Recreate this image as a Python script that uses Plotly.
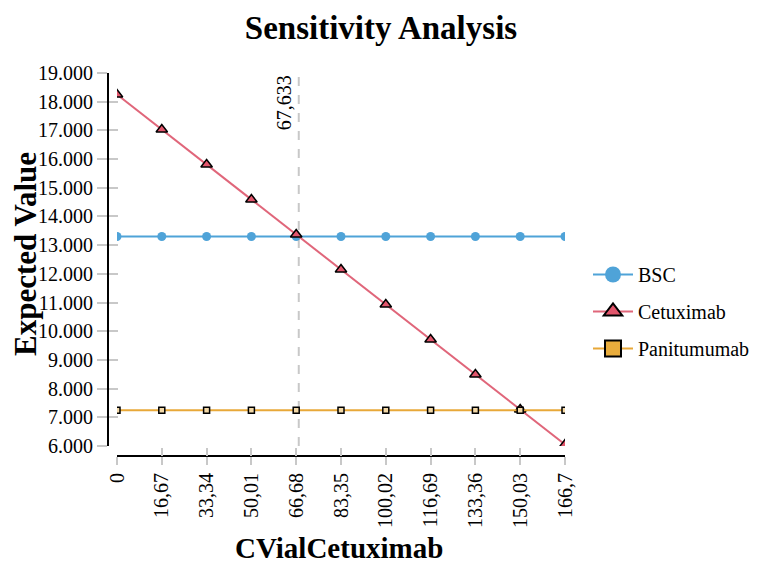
import plotly.graph_objects as go

# ---- data ----
x_values = [0, 16.67, 33.34, 50.01, 66.68, 83.35, 100.02, 116.69, 133.36, 150.03, 166.7]
x_labels = ["0", "16,67", "33,34", "50,01", "66,68", "83,35", "100,02", "116,69", "133,36", "150,03", "166,7"]
bsc = [13300, 13300, 13300, 13300, 13300, 13300, 13300, 13300, 13300, 13300, 13300]
cetuximab = [18250, 17030, 15810, 14590, 13370, 12150, 10930, 9710, 8490, 7270, 6050]
panitumumab = [7250, 7250, 7250, 7250, 7250, 7250, 7250, 7250, 7250, 7250, 7250]
threshold = 67.633
threshold_label = "67,633"
y_min, y_max = 6000, 19000

OFF = 8  # page body margin
W, H = 757 - OFF, 569 - OFF
FONT = "Liberation Serif"
C_BSC = "#4fa3d8"
C_CET = "#e0667a"
C_CET_FILL = "#e2566c"
C_PAN = "#e8a838"
TICKC = "#c8c8c8"

def px_x(p):
    return (p - OFF) / W

def px_y(p):
    return (H - (p - OFF)) / H

fig = go.Figure()

fig.add_trace(go.Scatter(x=x_values, y=bsc, mode="lines+markers", name="BSC",
                         line=dict(color=C_BSC, width=2),
                         marker=dict(symbol="circle", size=9, color=C_BSC),
                         showlegend=False))
fig.add_trace(go.Scatter(x=x_values, y=cetuximab, mode="lines+markers", name="Cetuximab",
                         line=dict(color=C_CET, width=2),
                         marker=dict(symbol="triangle-up", size=10, color=C_CET_FILL,
                                     line=dict(color="black", width=1.5)),
                         showlegend=False))
fig.add_trace(go.Scatter(x=x_values, y=panitumumab, mode="lines+markers", name="Panitumumab",
                         line=dict(color=C_PAN, width=2),
                         marker=dict(symbol="square", size=6, color="#f3d9a8",
                                     line=dict(color="black", width=1.5)),
                         showlegend=False))

fig.add_trace(go.Scatter(x=[None], y=[None], mode="lines+markers", name="BSC",
                         line=dict(color=C_BSC, width=2),
                         marker=dict(symbol="circle", size=20, color=C_BSC),
                         legendgroup="a"))
fig.add_trace(go.Scatter(x=[None], y=[None], mode="lines+markers", name="Cetuximab",
                         line=dict(color=C_CET, width=2),
                         marker=dict(symbol="triangle-up", size=20, color=C_CET_FILL,
                                     line=dict(color="black", width=2)),
                         legendgroup="b"))
fig.add_trace(go.Scatter(x=[None], y=[None], mode="lines+markers", name="Panitumumab",
                         line=dict(color=C_PAN, width=2),
                         marker=dict(symbol="square", size=20, color="#e8ac3c",
                                     line=dict(color="black", width=2)),
                         legendgroup="c"))

fig.add_trace(go.Scatter(x=[], y=[], xaxis="x2", yaxis="y2", showlegend=False, hoverinfo="skip"))

x_dom = [px_x(117), px_x(565)]
y_dom = [px_y(446), px_y(73)]
x_pos = px_y(456)
y_pos = px_x(108)
x_range = [x_values[0], x_values[-1]]
tf = dict(size=20, family=FONT, color="black")

fig.update_layout(
    template="none",
    width=W, height=H,
    margin=dict(l=0, r=0, t=0, b=0, autoexpand=False),
    paper_bgcolor="white", plot_bgcolor="white",
    separators=",.",
    font=tf,
    title=dict(text="<b>Sensitivity Analysis</b>", x=px_x(381), xanchor="center",
               y=px_y(27), yanchor="middle", font=dict(size=33, family=FONT, color="black")),
    xaxis=dict(domain=x_dom, range=x_range, anchor="free", position=x_pos, automargin=False,
               tickvals=x_values, ticktext=x_labels, tickangle=-90,
               showline=True, linecolor="black", linewidth=2,
               ticks="outside", ticklen=8, tickcolor=TICKC, tickwidth=2,
               showgrid=False, zeroline=False, tickfont=tf),
    yaxis=dict(domain=y_dom, range=[y_min, y_max], anchor="free", position=y_pos, automargin=False,
               tick0=y_min, dtick=1000, tickformat=",",
               showline=True, linecolor="black", linewidth=2,
               ticks="outside", ticklen=10, tickcolor=TICKC, tickwidth=2,
               showgrid=False, zeroline=False, tickfont=tf),
    xaxis2=dict(domain=x_dom, range=x_range, overlaying="x", anchor="free", position=x_pos,
                automargin=False,
                tickvals=x_values, showticklabels=False, showline=False,
                ticks="inside", ticklen=8, tickcolor=TICKC, tickwidth=2,
                showgrid=False, zeroline=False),
    yaxis2=dict(domain=y_dom, range=[y_min, y_max], overlaying="y", anchor="free", position=y_pos,
                automargin=False,
                tick0=y_min, dtick=1000, showticklabels=False, showline=False,
                ticks="inside", ticklen=9, tickcolor=TICKC, tickwidth=2,
                showgrid=False, zeroline=False),
    legend=dict(x=px_x(588), y=px_y(255), xanchor="left", yanchor="top",
                font=tf, itemwidth=40, tracegroupgap=8,
                bgcolor="rgba(0,0,0,0)"),
    showlegend=True,
)

fig.add_shape(type="line", xref="x", yref="y", x0=threshold, x1=threshold,
              y0=y_min, y1=y_max, line=dict(color="#c8c8c8", width=2, dash="dash"),
              layer="below")
fig.add_annotation(x=threshold, y=y_max, xref="x", yref="y", text=threshold_label,
                   textangle=-90, showarrow=False, xanchor="right", yanchor="top",
                   xshift=-1, font=tf)

fig.add_annotation(x=px_x(25), y=px_y(254), xref="paper", yref="paper",
                   text="<b>Expected Value</b>", textangle=-90, showarrow=False,
                   xanchor="center", yanchor="middle", font=dict(size=31, family=FONT, color="black"))
fig.add_annotation(x=px_x(339), y=px_y(548), xref="paper", yref="paper",
                   text="<b>CVialCetuximab</b>", showarrow=False,
                   xanchor="center", yanchor="middle", font=dict(size=29, family=FONT, color="black"))

fig.write_html("out.html")
